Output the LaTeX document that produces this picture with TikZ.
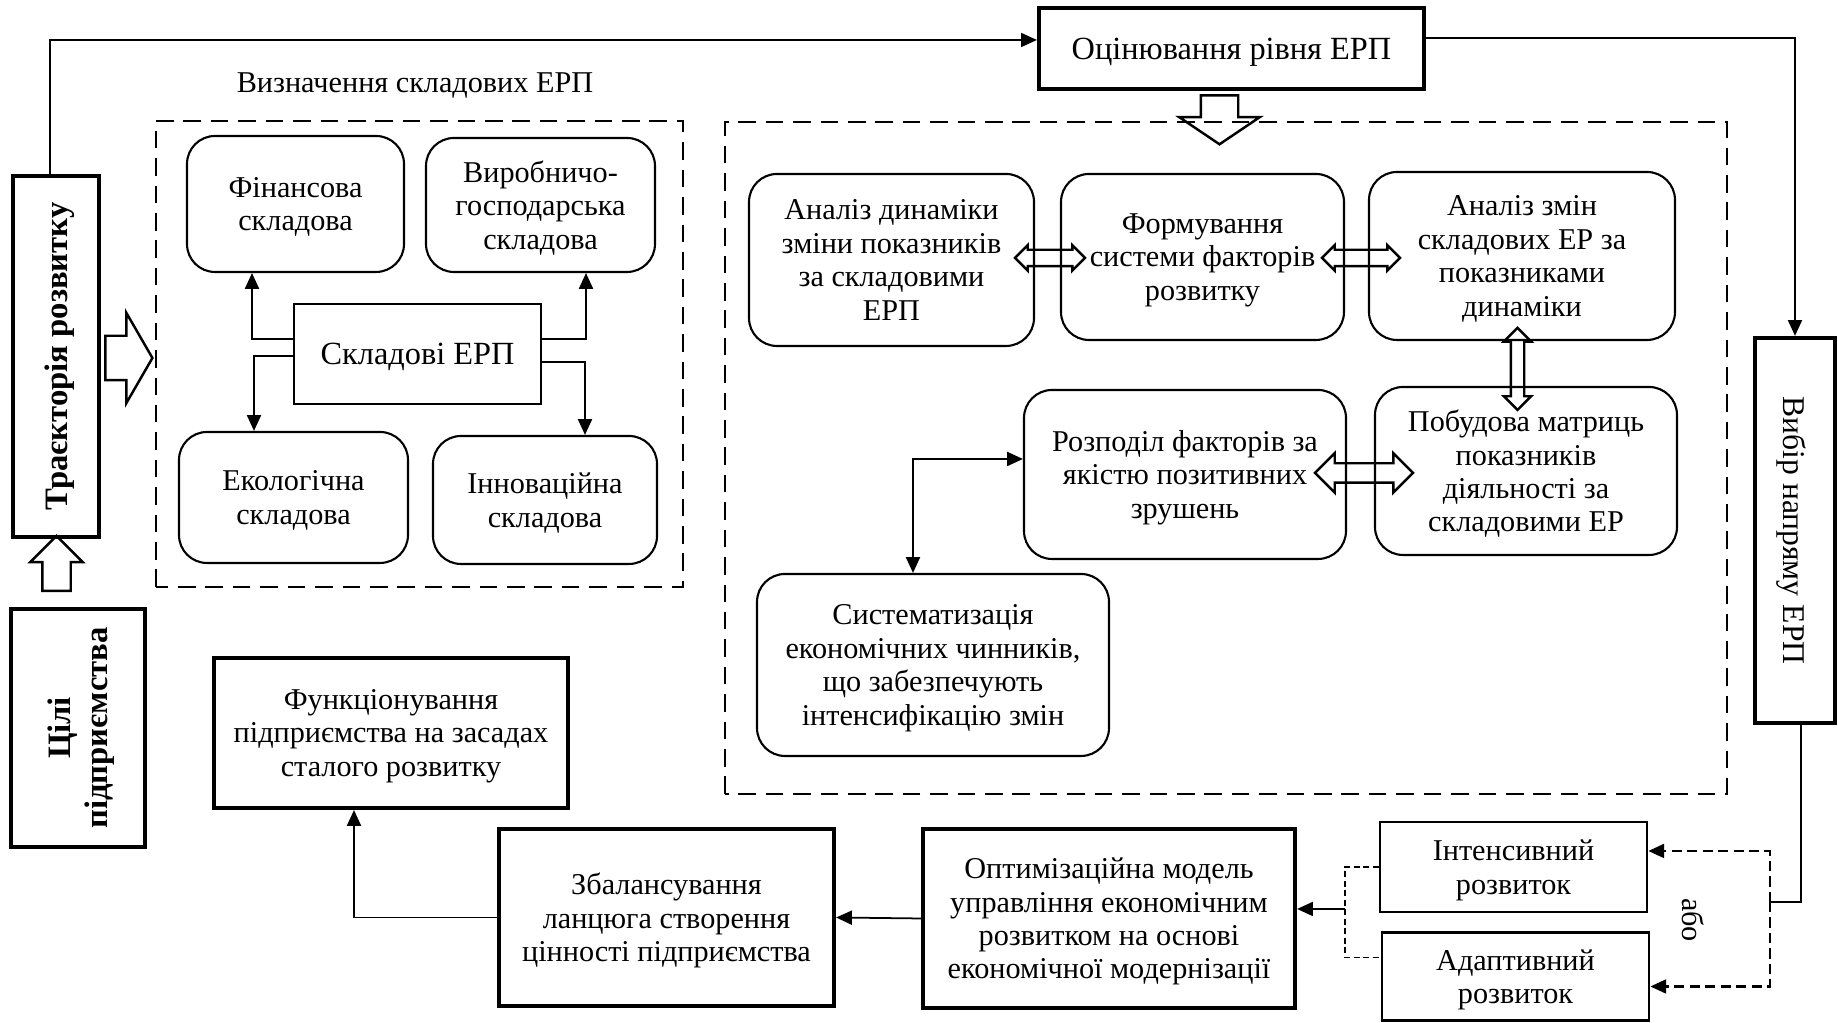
\documentclass[tikz,border=0pt]{standalone}
\usepackage{fontspec}
\setmainfont{Liberation Serif}
\usetikzlibrary{arrows.meta,shapes.arrows}

\begin{document}
\begin{tikzpicture}[font=\fontsize{8.6}{9.5}\selectfont,>={Triangle[length=4.5pt,width=4pt]},
    rbox/.style={draw,line width=0.6pt,rounded corners=0.28cm,align=center,inner sep=2pt,text depth=0pt},
    sbox/.style={draw,line width=0.6pt,align=center,text depth=0pt},
    mbox/.style={draw,line width=0.8pt,align=center,text depth=0pt},
    tbox/.style={draw,line width=1.2pt,align=center,text depth=0pt},
    hollow/.style={draw,line width=0.7pt,inner xsep=0pt},
    frame/.style={line width=0.7pt,dash pattern=on 5pt off 2.8pt},
    ordash/.style={line width=0.6pt,dash pattern=on 2.9pt off 1.5pt},
    devdash/.style={line width=0.35pt,dash pattern=on 1.7pt off 1pt},
    link/.style={line width=0.5pt}]
  \useasboundingbox (0,0) rectangle (18.38,10.23);
  % left column
  \node[tbox,rotate=90,minimum width=3.61cm,minimum height=0.86cm,font=\fontsize{9.3}{10.4}\selectfont\bfseries] (traj) at (0.56,6.665) {Траєкторія розвитку};
  \node[tbox,rotate=90,minimum width=2.38cm,minimum height=1.34cm,font=\fontsize{9.3}{10.6}\selectfont\bfseries] (goals) at (0.78,2.95) {Цілі\\підприємства};
  \node[hollow,single arrow,rotate=90,minimum height=0.55cm,inner ysep=0.13cm,single arrow head extend=0.12cm,single arrow tip angle=90] (goalsup) at (0.565,4.525) {};
  \node[hollow,single arrow,minimum height=0.47cm,inner ysep=0.21cm,single arrow head extend=0.23cm,single arrow tip angle=120] (toparts) at (1.225,6.65) {};
  % components of the EDL
  \node (deftitle) at (4.15,9.37) {Визначення складових ЕРП};
  \draw[frame] (1.56,4.36) rectangle (6.83,9.02);
  \node[rbox,minimum width=2.17cm,minimum height=1.36cm] (fin) at (2.955,8.19) {Фінансова\\складова};
  \node[rbox,minimum width=2.29cm,minimum height=1.34cm] (prod) at (5.405,8.18) {Виробничо-\\господарська\\складова};
  \node[sbox,minimum width=2.47cm,minimum height=1.00cm,font=\fontsize{9.2}{10}\selectfont] (comp) at (4.175,6.69) {Складові ЕРП};
  \node[rbox,minimum width=2.29cm,minimum height=1.31cm] (eco) at (2.935,5.255) {Екологічна\\складова};
  \node[rbox,minimum width=2.24cm,minimum height=1.28cm] (inno) at (5.45,5.23) {Інноваційна\\складова};
  \draw[->,link] ([yshift=0.15cm]comp.west) -| ([xshift=-0.435cm]fin.south);
  \draw[->,link] ([yshift=-0.02cm]comp.west) -| ([xshift=-0.395cm]eco.north);
  \draw[->,link] ([yshift=0.15cm]comp.east) -| ([xshift=0.455cm]prod.south);
  \draw[->,link] ([yshift=-0.08cm]comp.east) -| ([xshift=0.40cm]inno.north);
  % assessment
  \node[tbox,minimum width=3.85cm,minimum height=0.81cm,font=\fontsize{9.2}{10}\selectfont] (eval) at (12.315,9.745) {Оцінювання рівня ЕРП};
  \node[hollow,single arrow,rotate=-90,minimum height=0.49cm,inner ysep=0.175cm,single arrow head extend=0.215cm,single arrow tip angle=112] (evaldown) at (12.195,9.095) {};
  \draw[frame] (7.25,2.29) rectangle (17.27,9.01);
  \node[rbox,minimum width=2.85cm,minimum height=1.72cm] (dyn) at (8.915,7.63) {Аналіз динаміки\\зміни показників\\за складовими\\ЕРП};
  \node[rbox,minimum width=2.83cm,minimum height=1.66cm] (form) at (12.025,7.66) {Формування\\системи факторів\\розвитку};
  \node[rbox,minimum width=3.06cm,minimum height=1.68cm] (chg) at (15.22,7.67) {Аналіз змін\\складових ЕР за\\показниками\\динаміки};
  \node[rbox,minimum width=3.22cm,minimum height=1.69cm] (distr) at (11.85,5.485) {Розподіл факторів за\\якістю позитивних\\зрушень};
  \node[rbox,minimum width=3.02cm,minimum height=1.68cm] (matr) at (15.26,5.52) {Побудова матриць\\показників\\діяльності за\\складовими ЕР};
  \node[rbox,minimum width=3.52cm,minimum height=1.82cm] (syst) at (9.33,3.58) {Систематизація\\економічних чинників,\\що забезпечують\\інтенсифікацію змін};
  \node[hollow,double arrow,minimum height=0.70cm,inner ysep=0.07cm,double arrow head extend=0.045cm] (dyntoform) at (10.50,7.65) {};
  \node[hollow,double arrow,minimum height=0.78cm,inner ysep=0.07cm,double arrow head extend=0.045cm] (formtochg) at (13.61,7.65) {};
  \node[hollow,double arrow,rotate=90,minimum height=0.82cm,inner ysep=0.055cm,double arrow head extend=0.07cm] (chgtomatr) at (15.175,6.54) {};
  \node[hollow,double arrow,minimum height=0.98cm,inner ysep=0.085cm,double arrow head extend=0.10cm] (distrtomatr) at (13.64,5.50) {};
  \draw[<->,link] ([xshift=-0.2cm]syst.north) |- ([yshift=0.155cm]distr.west);
  % direction choice
  \node[tbox,rotate=-90,minimum width=3.85cm,minimum height=0.80cm,font=\fontsize{9}{10}\selectfont] (choice) at (17.95,4.925) {Вибір напряму ЕРП};
  \node[mbox,minimum width=2.67cm,minimum height=0.90cm] (intens) at (15.135,1.56) {Інтенсивний\\розвиток};
  \node[mbox,minimum width=2.67cm,minimum height=0.88cm] (adapt) at (15.155,0.465) {Адаптивний\\розвиток};
  \node[rotate=-90] (ortext) at (16.93,1.03) {або};
  \coordinate (orjoin) at (17.70,1.21);
  \coordinate (devjoin) at (13.45,1.14);
  % bottom row
  \node[tbox,minimum width=3.54cm,minimum height=1.50cm] (func) at (3.91,2.90) {Функціонування\\підприємства на засадах\\сталого розвитку};
  \node[tbox,minimum width=3.35cm,minimum height=1.77cm] (bal) at (6.665,1.055) {Збалансування\\ланцюга створення\\цінності підприємства};
  \node[tbox,minimum width=3.72cm,minimum height=1.79cm] (optim) at (11.09,1.045) {Оптимізаційна модель\\управління економічним\\розвитком на основі\\економічної модернізації};
  % connectors
  \draw[->,line width=0.4pt] ([xshift=-0.06cm]traj.east) |- ([yshift=0.085cm]eval.west);
  \draw[->,link] ([yshift=0.105cm]eval.east) -| (choice.west);
  \draw[link] ([xshift=0.06cm]choice.east) |- (orjoin);
  \draw[ordash,->] (orjoin) |- ([yshift=0.16cm]intens.east);
  \draw[ordash,->] (orjoin) |- ([yshift=-0.10cm]adapt.east);
  \draw[devdash] (intens.west) -| (devjoin) |- ([yshift=0.19cm]adapt.west);
  \draw[->,link] (devjoin) -- (devjoin -| optim.east);
  \draw[->,link] (optim.west) -- (bal.east);
  \draw[->,link] (bal.west) -| ([xshift=-0.37cm]func.south);
\end{tikzpicture}
\end{document}
